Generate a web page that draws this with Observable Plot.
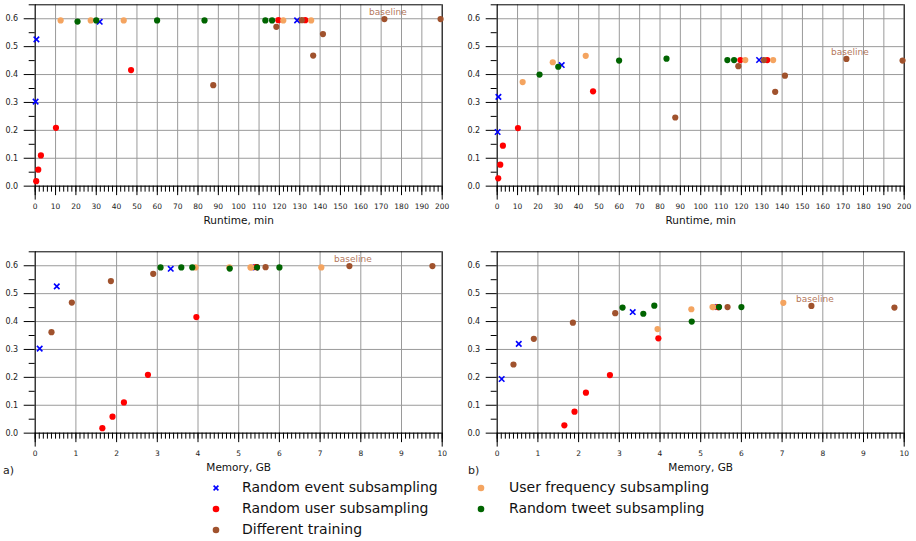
<!DOCTYPE html>
<html><head><meta charset="utf-8">
<script src="https://cdn.jsdelivr.net/npm/d3@7"></script>
<script src="https://cdn.jsdelivr.net/npm/@observablehq/plot@0.6"></script>
<style>
html,body{margin:0;padding:0;background:#fff;overflow:hidden}
#root{position:relative;width:916px;height:541px;font-family:"DejaVu Sans",sans-serif;}
.panel{position:absolute}
.lab{position:absolute;font-size:10.5px;color:#222;line-height:1}
.leg{position:absolute;font-size:14px;color:#111;line-height:1;white-space:nowrap}
.legm{position:absolute}
</style></head><body><div id="root"></div>
<script>
// ---------- data ----------
const seriesNames = ["Random event subsampling","Random user subsampling","Different training","User frequency subsampling","Random tweet subsampling"];
const seriesColors = ["#0000ff","#ff0000","#a0522d","#f4a460","#006400"];

const eventRuntime = [0.2, 0.6, 31.7, 128.7];
const eventMemory  = [0.11, 0.53, 3.33, 5.41];
const eventScoreA  = [0.303, 0.526, 0.589, 0.594];
const eventScoreB  = [0.194, 0.320, 0.434, 0.452];

const userRuntime = [0.5, 1.5, 2.8, 10.2, 47.1, 119.5, 132.7];
const userMemory  = [1.65, 1.90, 2.18, 2.77, 3.96, 5.42, 5.44];
const userScoreA  = [0.018, 0.059, 0.110, 0.209, 0.416, 0.595, 0.595];
const userScoreB  = [0.028, 0.077, 0.145, 0.208, 0.340, 0.452, 0.452];

const trainRuntime = [87.5, 118.5, 131.0, 136.6, 141.4, 171.6, 199.2];
const trainMemory  = [0.40, 2.90, 5.66, 0.90, 1.86, 7.72, 9.76];
const trainScoreA  = [0.362, 0.571, 0.595, 0.468, 0.545, 0.599, 0.599];
const trainScoreB  = [0.246, 0.430, 0.452, 0.338, 0.396, 0.456, 0.450];
const baselineIndex = 5;
const baselineLabel = "baseline";

const freqRuntime = [12.5, 27.3, 43.5, 121.9, 135.6];
const freqMemory  = [3.94, 4.77, 7.03, 5.31, 5.29];
const freqScoreA  = [0.594, 0.594, 0.594, 0.594, 0.594];
const freqScoreB  = [0.373, 0.444, 0.467, 0.452, 0.452];

const tweetRuntime = [20.8, 30.0, 59.9, 83.2, 113.1, 116.4];
const tweetMemory  = [4.78, 3.59, 3.08, 3.86, 5.45, 6.00];
const tweetScoreA  = [0.590, 0.594, 0.594, 0.594, 0.594, 0.594];
const tweetScoreB  = [0.400, 0.428, 0.450, 0.457, 0.452, 0.452];

const runtimeDomain = [0, 200];
const memoryDomain = [0, 10];
const scoreDomain = [-0.05, 0.65];
const runtimeMajor = d3.range(0, 201, 10);
const runtimeMinor = d3.range(0, 201, 2);
const memoryMajor = d3.range(0, 11, 1);
const memoryMinor = d3.range(0, 101, 1).map(d => d / 10);
const scoreMajor = [0, 0.1, 0.2, 0.3, 0.4, 0.5, 0.6];
const scoreMinor = [0.05, 0.15, 0.25, 0.35, 0.45, 0.55, 0.65];
const runtimeLabel = "Runtime, min";
const memoryLabel = "Memory, GB";
const panelTags = ["a)", "b)"];

// ---------- build table ----------
const series = [
  [seriesNames[0], eventRuntime, eventMemory, eventScoreA, eventScoreB],
  [seriesNames[1], userRuntime, userMemory, userScoreA, userScoreB],
  [seriesNames[2], trainRuntime, trainMemory, trainScoreA, trainScoreB],
  [seriesNames[3], freqRuntime, freqMemory, freqScoreA, freqScoreB],
  [seriesNames[4], tweetRuntime, tweetMemory, tweetScoreA, tweetScoreB]
];
const rows = series.flatMap(([name, rt, mem, a, b]) =>
  rt.map((r, i) => ({name, runtime: r, memory: mem[i], a: a[i], b: b[i]})));
const crossRows = rows.filter(d => d.name === seriesNames[0]);
const dotRows = rows.filter(d => d.name !== seriesNames[0]);
const baselineRows = rows.filter(d => d.name === seriesNames[2] && d.runtime === trainRuntime[baselineIndex]);

const root = document.getElementById("root");
const gridColor = "#9a9a9a";
const GAP = 13.95; // px between frame bottom and the zero line

function panel({xKey, yKey, xDomain, xMajor, xMinor, xLabel, left, top, width, marginRight}) {
  const height = 236;
  const chart = Plot.plot({
    width, height,
    marginLeft: 34.7, marginRight, marginTop: 4.3, marginBottom: height - 199.6,
    style: {fontFamily: "DejaVu Sans, sans-serif", fontSize: "7.5px", background: "transparent", overflow: "visible", color: "#111"},
    x: {domain: xDomain},
    y: {domain: scoreDomain},
    color: {domain: seriesNames, range: seriesColors},
    marks: [
      Plot.ruleY(scoreMajor, {stroke: gridColor, strokeWidth: 1}),
      Plot.ruleX(xMajor, {y1: scoreMajor[0], y2: scoreDomain[1], stroke: gridColor, strokeWidth: 1}),
      Plot.ruleY([scoreMajor[0], scoreDomain[1]], {stroke: "#000", strokeWidth: 1}),
      Plot.ruleX(xDomain, {stroke: "#000", strokeWidth: 1}),
      Plot.axisX({ticks: xMinor, tickSize: 6, fill: null, label: null, dy: -GAP, stroke: "#000"}),
      Plot.axisX({ticks: xMajor, tickSize: 9.5, fill: null, label: null, dy: -GAP, stroke: "#000"}),
      Plot.axisX({ticks: xMajor, tickSize: 0, tickPadding: 3.5, label: null, fontSize: 7.5, fill: "#222", tickFormat: d => String(d)}),
      Plot.axisY({ticks: scoreMinor, tickSize: 6, fill: null, label: null, stroke: "#000"}),
      Plot.axisY({ticks: scoreMajor, tickSize: 11, tickPadding: 6, label: null, fontSize: 8, fill: "#222", stroke: "#000", tickFormat: ".1f"}),
      Plot.dot(crossRows, {x: xKey, y: yKey, stroke: "name", symbol: "times", r: 2.6, strokeWidth: 1.6}),
      Plot.dot(dotRows, {x: xKey, y: yKey, fill: "name", r: 3.1, stroke: null}),
      Plot.text(baselineRows, {x: xKey, y: yKey, text: () => baselineLabel, dx: 3.5, dy: -7, fill: seriesColors[2], fillOpacity: 0.8, fontSize: 9}),
      Plot.text([xLabel], {frameAnchor: "bottom", text: d => d, dy: 20.5, fontSize: 10.5, fill: "#111", lineAnchor: "middle"})
    ]
  });
  chart.classList.add("panel");
  chart.style.left = left + "px";
  chart.style.top = top + "px";
  root.appendChild(chart);
}

panel({xKey: "runtime", yKey: "a", xDomain: runtimeDomain, xMajor: runtimeMajor, xMinor: runtimeMinor, xLabel: runtimeLabel, left: 0, top: 0, width: 458, marginRight: 16.3});
panel({xKey: "runtime", yKey: "b", xDomain: runtimeDomain, xMajor: runtimeMajor, xMinor: runtimeMinor, xLabel: runtimeLabel, left: 462, top: 0, width: 454, marginRight: 12.3});
panel({xKey: "memory", yKey: "a", xDomain: memoryDomain, xMajor: memoryMajor, xMinor: memoryMinor, xLabel: memoryLabel, left: 0, top: 246.5, width: 458, marginRight: 16.3});
panel({xKey: "memory", yKey: "b", xDomain: memoryDomain, xMajor: memoryMajor, xMinor: memoryMinor, xLabel: memoryLabel, left: 462, top: 246.5, width: 454, marginRight: 12.3});

// panel tags
[[panelTags[0], 3], [panelTags[1], 468]].forEach(([t, x]) => {
  const d = document.createElement("div");
  d.className = "lab";
  d.textContent = t;
  d.style.left = x + "px";
  d.style.top = "465px";
  d.style.fontSize = "11px";
  root.appendChild(d);
});

// legend
const legendSlots = [[216, 242, 488], [216, 242, 509], [216, 242, 530], [481, 509, 488], [481, 509, 509]];
seriesNames.forEach((name, i) => {
  const [mx, tx, cy] = legendSlots[i];
  const ns = "http://www.w3.org/2000/svg";
  const svg = document.createElementNS(ns, "svg");
  svg.setAttribute("width", 12); svg.setAttribute("height", 12);
  svg.setAttribute("class", "legm");
  svg.style.left = (mx - 6) + "px"; svg.style.top = (cy - 6) + "px";
  if (i === 0) {
    const p = document.createElementNS(ns, "path");
    p.setAttribute("d", "M3.6,3.6L8.4,8.4M8.4,3.6L3.6,8.4");
    p.setAttribute("stroke", seriesColors[i]); p.setAttribute("stroke-width", 1.6);
    svg.appendChild(p);
  } else {
    const c = document.createElementNS(ns, "circle");
    c.setAttribute("cx", 6); c.setAttribute("cy", 6); c.setAttribute("r", 3.3);
    c.setAttribute("fill", seriesColors[i]);
    svg.appendChild(c);
  }
  root.appendChild(svg);
  const t = document.createElement("div");
  t.className = "leg";
  t.textContent = name;
  t.style.left = tx + "px";
  t.style.top = (cy - 8) + "px";
  root.appendChild(t);
});
</script></body></html>
